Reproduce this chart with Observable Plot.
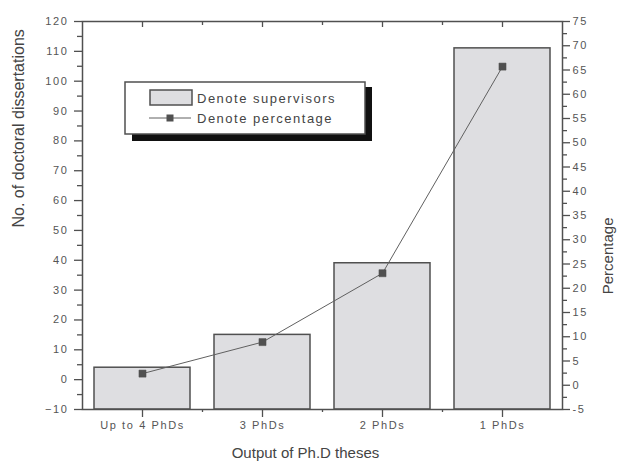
<!DOCTYPE html>
<html><head><meta charset="utf-8">
<script src="https://cdn.jsdelivr.net/npm/d3@7"></script>
<script src="https://cdn.jsdelivr.net/npm/@observablehq/plot@0.6"></script>
<style>
body{margin:0;background:#fff;}
svg text{font-family:"Liberation Sans",Arial,sans-serif;}
[aria-label$="tick label"] text{letter-spacing:1.6px;}
</style></head><body><div id="chart"></div>
<script>
const categories = ["Up to 4 PhDs", "3 PhDs", "2 PhDs", "1 PhDs"];
const supervisors = [4, 15, 39, 111];
const percentage = [2.4, 8.9, 23.1, 65.7];
const leftTicks = [-10, 0, 10, 20, 30, 40, 50, 60, 70, 80, 90, 100, 110, 120];
const rightTicks = [-5, 0, 5, 10, 15, 20, 25, 30, 35, 40, 45, 50, 55, 60, 65, 70, 75];
const legendLabels = ["Denote supervisors", "Denote percentage"];
const xTitle = "Output of Ph.D theses";
const yTitle = "No. of doctoral dissertations";
const y2Title = "Percentage";

const W = 618, H = 466, mL = 82, mR = 56, mT = 21, mB = 57;
const yDomain = [-10, 120], pDomain = [-5, 75];
const toLeft = p => yDomain[0] + (p - pDomain[0]) * (yDomain[1] - yDomain[0]) / (pDomain[1] - pDomain[0]);
const fromLeft = v => Math.round(pDomain[0] + (v - yDomain[0]) * (pDomain[1] - pDomain[0]) / (yDomain[1] - yDomain[0]));
const data = categories.map((c, i) => ({cat: c, value: supervisors[i], pct: percentage[i]}));
const step = (W - mL - mR) / categories.length;
const leftMinor = leftTicks.slice(0, -1).map(v => v + 5);
const rightMinor = rightTicks.slice(0, -1).map(v => toLeft(v + 2.5));
const ink = "#505050";

const plot = Plot.plot({
  width: W, height: H, marginLeft: mL, marginRight: mR, marginTop: mT, marginBottom: mB,
  style: {fontFamily: "Liberation Sans, Arial, sans-serif", fontSize: "11px", color: "#555", background: "#fff"},
  x: {type: "band", domain: categories, paddingInner: 0.2, paddingOuter: 0.1, align: 0.5},
  y: {domain: yDomain},
  marks: [
    Plot.barY(data, {x: "cat", y1: yDomain[0], y2: "value", fill: "#dedee1", stroke: ink, strokeWidth: 1.5}),
    Plot.line(data, {x: "cat", y: d => toLeft(d.pct), stroke: "#606060", strokeWidth: 1}),
    Plot.dot(data, {x: "cat", y: d => toLeft(d.pct), symbol: "square", r: 4, fill: ink, stroke: ink, strokeWidth: 0.5}),
    Plot.frame({stroke: ink, strokeWidth: 1.5}),
    Plot.axisY(leftTicks, {anchor: "left", tickSize: 8, tickPadding: 6, label: null, stroke: ink, strokeWidth: 1.3, fill: "#555"}),
    Plot.axisY(leftMinor, {anchor: "left", tickSize: 5, text: null, label: null, stroke: ink, strokeWidth: 1.3}),
    Plot.axisY(rightTicks.map(toLeft), {anchor: "right", tickSize: 7, tickPadding: 3, label: null, tickFormat: fromLeft, stroke: ink, strokeWidth: 1.3, fill: "#555"}),
    Plot.axisY(rightMinor, {anchor: "right", tickSize: 4, text: null, label: null, stroke: ink, strokeWidth: 1.3}),
    Plot.axisX({anchor: "bottom", tickSize: 8, tickPadding: 4, label: null, stroke: ink, strokeWidth: 1.3, fill: "#555"}),
    Plot.axisX(categories.slice(1), {anchor: "bottom", tickSize: 3, text: null, label: null, dx: -step / 2, stroke: ink, strokeWidth: 1.3}),
    Plot.axisX({anchor: "top", tickSize: 5, dy: 5, text: null, label: null, stroke: ink, strokeWidth: 1.3}),
    Plot.axisX(categories.slice(1), {anchor: "top", tickSize: 3, dy: 3, text: null, label: null, dx: -step / 2, stroke: ink, strokeWidth: 1.3}),
    Plot.text([yTitle], {frameAnchor: "left", dx: -64, dy: 12, rotate: -90, fontSize: 16, fill: "#444"}),
    Plot.text([y2Title], {frameAnchor: "right", dx: 46, dy: 2, rotate: -90, fontSize: 15, fill: "#444"}),
    Plot.text([xTitle], {frameAnchor: "bottom", dx: -17, dy: 48, fontSize: 15, fill: "#444"})
  ]
});

const svg = d3.select(plot);
const lg = svg.append("g");
lg.append("rect").attr("x", 132).attr("y", 87).attr("width", 240).attr("height", 54).attr("fill", "#111");
lg.append("rect").attr("x", 125).attr("y", 82).attr("width", 240).attr("height", 52).attr("fill", "#fff").attr("stroke", ink).attr("stroke-width", 1.5);
lg.append("rect").attr("x", 150).attr("y", 90).attr("width", 42).attr("height", 15).attr("fill", "#dedee1").attr("stroke", ink).attr("stroke-width", 1.5);
lg.append("line").attr("x1", 149).attr("x2", 191).attr("y1", 118).attr("y2", 118).attr("stroke", "#606060");
lg.append("rect").attr("x", 166.5).attr("y", 114.5).attr("width", 7).attr("height", 7).attr("fill", ink);
legendLabels.forEach((t, i) => {
  lg.append("text").attr("x", 197).attr("y", 98 + i * 20).attr("dy", "0.35em")
    .attr("text-anchor", "start").attr("font-size", 13).attr("letter-spacing", "1.5px").attr("fill", "#444").text(t);
});

document.getElementById("chart").append(plot);
</script></body></html>
